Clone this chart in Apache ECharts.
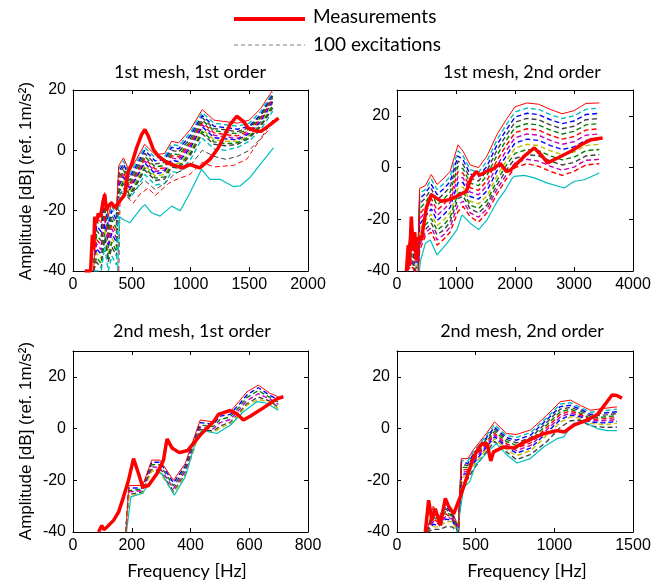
<!DOCTYPE html>
<html><head><meta charset="utf-8">
<script src="https://cdn.jsdelivr.net/npm/echarts@6/dist/echarts.min.js"></script>
<style>html,body{margin:0;padding:0;background:#fff}#c{width:665px;height:586px}</style>
</head><body><div id="c"></div>
<script>
// ---------- texts ----------
const legendLabels = ['Measurements', '100 excitations'];
const panelTitles = ['1st mesh, 1st order', '1st mesh, 2nd order', '2nd mesh, 1st order', '2nd mesh, 2nd order'];
const yAxisTitle = 'Amplitude [dB] (ref. 1m/s\u00B2)';
const xAxisTitle = 'Frequency [Hz]';

// ---------- panel 1: 1st mesh, 1st order ----------
const p1Freq   = [175,200,240,270,300,330,370,390,430,480,540,610,700,780,840,900,1000,1100,1200,1300,1400,1500,1600,1700];
const p1Upper  = [-40,-22,-24,-14,-22,-17,-20,-5,-2.5,-7,-3,2,-1.5,-1,3,2.5,7,13.5,10,9.5,9,10,14,20];
const p1ExcA2  = [-40,-23.5,-25.5,-15.5,-23.5,-18.5,-21.5,-6,-3.5,-8,-4,1,-2.5,-2,2,1.5,6,12.5,9,8.5,8,9,13,19.2];
const p1ExcA   = [-40,-25,-27,-17,-25,-20,-23,-7,-4.5,-9,-5,0,-3.5,-3,1,0.5,5,11.5,8,7.5,7,8,12,18.5];
const p1ExcB2  = [-40,-26.5,-28.5,-18.5,-26.5,-21.5,-24.5,-8,-5.5,-10,-6,-1,-4.5,-4,0,-0.5,4,10.8,7.2,6.8,6.2,7.5,11.5,18];
const p1ExcB   = [-40,-28,-30,-20,-28,-23,-26,-9,-6.5,-11,-7,-2,-5.5,-5,-1,-1.5,3,10,6.5,6,5.5,7,11,17.5];
const p1ExcC2  = [-40,-29.5,-31.5,-21.5,-29.5,-24.5,-27.5,-10,-7.2,-11.8,-7.8,-2.8,-6.2,-5.8,-1.8,-2.2,2.2,9.2,5.8,5.2,4.8,6.5,10.5,17];
const p1ExcC   = [-40,-31,-33,-23,-31,-26,-29,-11,-8,-12.5,-8.5,-3.5,-7,-6.5,-2.5,-3,1.5,8.5,5,4.5,4,6,10,16.5];
const p1ExcD2  = [-40,-32.5,-34.5,-24.5,-32.5,-27.5,-30.5,-12,-8.8,-13.2,-9.2,-4.2,-7.8,-7.2,-3.2,-3.8,0.8,7.8,4.2,3.8,3.5,5.5,9.5,16];
const p1ExcD   = [-40,-34,-36,-26,-34,-29,-32,-13,-9.5,-14,-10,-5,-8.5,-8,-4,-4.5,0,7,3.5,3,3,5,9,15.5];
const p1ExcE2  = [-40,-35.5,-37.5,-27.5,-35.5,-30.5,-33.5,-13.5,-10.2,-14.8,-10.8,-5.8,-9.2,-8.8,-4.8,-5.2,-0.8,6.2,2.8,2.2,2.5,4.5,8.5,14.8];
const p1ExcE   = [-40,-37,-39,-29,-37,-32,-35,-14,-11,-15.5,-11.5,-6.5,-10,-9.5,-5.5,-6,-1.5,5.5,2,1.5,2,4,8,14];
const p1ExcF   = [-40,-40,-40,-32,-40,-35,-38,-15.5,-12.5,-16,-13,-8,-11.5,-11,-7,-7.5,-3,4,0.5,0,1,3,7,13];
const p1GrayFreq = [400,480,610,700,780,860,1000,1100,1200,1300,1400,1500,1600,1700];
const p1GrayVals = [-14,-15,-10,-13,-11,-8,-5,0,-2,-3,-2,0,4,10];
const p1RedFreq = [390,400,450,513,570,640,700,812,860,994,1100,1200,1364,1478,1578,1678];
const p1RedVals = [-40,-17,-15,-17.5,-14.5,-12.5,-15,-11,-10,-8,-4,-5.5,-5,-3,2.8,7.4];
const p1LowFreq = [380,396,430,484,584,612,669,741,840,912,997,1094,1165,1250,1364,1421,1507,1592,1706];
const p1LowVals = [-40,-22,-23,-24,-19,-18,-20.7,-21.8,-18.5,-20,-14,-6.3,-9.6,-9.6,-12,-11.8,-9,-4.7,0.8];
const p1MeasFreq = [100,150,165,175,185,200,215,235,255,270,285,299,327,356,399,441,456,470,498,541,584,612,641,684,726,783,840,926,994,1079,1165,1236,1279,1336,1393,1450,1492,1564,1600,1678,1749];
const p1MeasVals = [-40,-40,-28,-33,-22,-24,-21,-22,-17,-14.6,-20,-18.5,-17.4,-19,-16.8,-14.6,-10.2,-6.9,-4.7,0.8,5.2,6.9,4.7,0.3,-1.9,-3.6,-4.7,-5.8,-4.7,-5.8,-3,0.8,4.1,8.5,11.3,9.6,7.4,6.3,6.3,8.5,10.7];

// ---------- panel 2: 1st mesh, 2nd order ----------
const p2Freq   = [170,200,243,300,360,384,480,581,680,800,900,1034,1120,1240,1383,1525,1700,1850,2000,2200,2400,2600,2800,3000,3200,3430];
const p2Upper  = [-40,-30,-19,-30,-28,-8,-7,-2.7,-6.5,-4,-1.5,8.8,6.3,1,0,4.5,13,18.5,23.5,25,24.5,22.5,20.8,22,24.8,25];
const p2ExcA2  = [-40,-31.5,-21,-31.5,-29.5,-10,-8.5,-4.5,-8.5,-6,-3.5,6.5,4.5,-0.8,-1.8,2.5,11,16.5,21.5,23,22.5,20.5,19,20,22.5,23];
const p2ExcA   = [-40,-33,-23,-33,-31,-12,-10,-6.5,-10.5,-8,-5.5,4.5,3,-2.5,-3.5,0.5,9,14.5,19.5,21,20.5,18.5,17,18,20.5,21];
const p2ExcB2  = [-40,-34,-24.5,-34,-32,-14,-11.8,-8.2,-12.5,-10,-7.5,2.5,1.2,-4.2,-5.2,-1.2,7,12.5,17.5,19,18.5,16.5,15,16,18.5,19];
const p2ExcB   = [-40,-35,-26,-35,-33,-16,-13.5,-10,-14.5,-12,-9.5,0.5,-0.5,-6,-7,-3,5,10.5,15.5,17,16.5,14.5,13,14,16.5,17];
const p2ExcC2  = [-40,-36,-27.5,-36,-34,-18,-15.2,-12,-16.5,-14,-11.5,-1.5,-2.2,-7.8,-8.8,-5,3,8.5,13.5,15,14.5,12.5,11,12,14.5,15];
const p2ExcC   = [-40,-37,-29,-37,-35,-20,-17,-14,-18.5,-16,-13.5,-3.5,-4,-9.5,-10.5,-7,1,6.5,11.5,13,12.5,10.5,9,10,12.5,13];
const p2ExcD2  = [-40,-38,-30.5,-38,-36,-22,-18.8,-16,-20.5,-18,-15.5,-5.8,-5.8,-11.2,-12.2,-9,-1,4.5,9.5,11,10.5,8.5,7,8,10.5,11];
const p2ExcD   = [-40,-39,-32,-39,-37,-24,-20.5,-18,-22.5,-20,-17.5,-8,-7.5,-13,-14,-11,-3,2.5,7.5,9,8.5,6.5,5,6,8.5,9];
const p2ExcE2  = [-40,-39.5,-33.5,-39.5,-38,-26,-22.2,-19.8,-24.2,-22,-19.2,-10,-9.2,-14.5,-15.8,-12.8,-4.8,0.8,5.5,7,6.5,4.5,3,4,6.5,7];
const p2ExcE   = [-40,-40,-35,-40,-39,-28,-24,-21.5,-26,-24,-21,-12,-11,-16,-17.5,-14.5,-6.5,-1,3.5,5,4.5,2.5,1,2,4.5,5];
const p2ExcF2  = [-40,-40,-36.5,-40,-39.5,-30,-25.2,-23.2,-28,-25.8,-23,-14.5,-13,-17.5,-19.2,-16,-8.2,-2.8,1.8,3.2,2.5,0.5,-1,0.2,2.8,3.2];
const p2ExcF   = [-40,-40,-38,-40,-40,-32,-26.5,-25,-30,-27.5,-25,-17,-15,-19,-21,-17.5,-10,-4.5,0,1.5,0.5,-1.5,-3,-1.5,1,1.5];
const p2LowFreq = [380,395,480,565,678,847,1017,1102,1242,1383,1525,1695,1836,1949,1988,2158,2327,2553,2836,3005,3175,3429];
const p2LowVals = [-40,-36.4,-29.3,-28,-33.8,-29.3,-24,-18.3,-21.5,-24,-20.3,-13.2,-8.7,-4.2,-3.4,-3,-4,-6,-7.9,-5.3,-4.7,-2.1];
const p2MeasFreq = [160,190,210,243,270,300,327,360,412,497,581,666,751,892,1061,1175,1259,1344,1400,1514,1627,1750,1853,1920,1988,2158,2327,2440,2553,2722,2949,3119,3288,3485];
const p2MeasVals = [-40,-30,-38,-19,-32,-25,-36,-27,-28,-15.6,-10.5,-11.8,-13,-12.4,-10.5,-9.2,-4,-1.5,-3,-1.5,-0.5,1.5,-1.5,-1,0.5,4.4,7.6,5,1.8,3.7,6.3,8.8,10.8,11.4];

// ---------- panel 3: 2nd mesh, 1st order ----------
const p3Freq  = [180,190,237,268,296,342,382,433,478,501,535,569,592,631,671,699];
const p3Upper = [-40,-22,-22,-12.2,-12.2,-20,-13.5,3.3,2.6,5.8,6.5,11,14.2,16.8,13.6,12.3];
const p3ExcA  = [-40,-23,-23,-13,-13,-21,-14.5,2.3,1.7,4.8,5.5,9.8,13,15.8,12.8,11.2];
const p3ExcB  = [-40,-24,-23.5,-14,-14,-22.2,-15.5,1.3,0.8,3.5,4.5,8.7,12,14.7,12,10.3];
const p3ExcC  = [-40,-24.5,-24,-14.8,-15.2,-23.2,-16.5,0.5,-0.1,2.3,3.5,7.7,10.8,13.5,11.4,9.3];
const p3ExcD  = [-40,-25.5,-24.5,-15.8,-16.3,-24.3,-17.6,-0.3,-1,1,2.4,6.6,9.6,12.2,10.6,8.2];
const p3ExcE  = [-40,-26,-25,-16.3,-17,-25,-18.2,-0.8,-1.5,0.2,1.8,6,9,11.3,10.2,7.6];
const p3LowFreq = [182,197,237,286,303,345,382,422,440,490,535,580,626,660,699];
const p3LowVals = [-40,-26.4,-25,-16.8,-17.5,-25.8,-18.7,-3.2,-0.6,-1.9,1.3,6.5,10.4,9.8,7.1];
const p3MeasFreq = [87,98,105,112,138,155,172,189,206,223,237,257,286,308,320,337,362,390,433,478,495,535,557,580,603,648,694,716];
const p3MeasVals = [-40,-37.5,-39,-38.5,-35.5,-32.3,-26.4,-20,-11.6,-17.4,-22.6,-22,-17.4,-12.2,-4,-7.5,-9.3,-8.5,-2.5,2.6,5.5,7,5.8,3.3,4.8,8,11.5,12.3];

// ---------- panel 4: 2nd mesh, 2nd order ----------
const p4Freq   = [190,230,270,310,350,390,409,451,483,568,620,695,760,850,953,1038,1102,1165,1229,1314,1398];
const p4Upper  = [-40,-30,-34,-28,-32,-38,-11.6,-11.6,-8.4,-1.9,2.6,-1.9,-2.3,-0.5,5.2,10.4,11,9,7.1,7.8,8.4];
const p4ExcA2  = [-40,-31,-34.5,-29,-32.5,-38.5,-12.3,-12.5,-9.2,-2.7,1.5,-2.7,-3.4,-1.5,4.3,9.5,10,8.2,6.3,6.9,7.5];
const p4ExcA   = [-40,-32,-35,-30,-33,-39,-13,-13.5,-10,-3.5,0.5,-3.5,-4.5,-2.5,3.5,8.5,9,7.5,5.5,6,6.5];
const p4ExcB2  = [-40,-33,-35.5,-31,-33.5,-39.5,-14,-14.2,-10.8,-4.2,-0.2,-4.2,-5.5,-3.5,2.5,7.5,8.2,6.8,4.8,5.2,5.8];
const p4ExcB   = [-40,-34,-36,-32,-34,-40,-15,-15,-11.5,-5,-1,-5,-6.5,-4.5,1.5,6.5,7.5,6,4,4.5,5];
const p4ExcC2  = [-40,-35,-36.5,-33,-34.5,-40,-16,-15.8,-12.2,-5.8,-1.8,-5.8,-7.5,-5.5,0.5,5.5,6.8,5.5,3.5,3.8,4.2];
const p4ExcC   = [-40,-36,-37,-34,-35,-40,-17,-16.5,-13,-6.5,-2.5,-6.5,-8.5,-6.5,-0.5,4.5,6,5,3,3,3.5];
const p4ExcD2  = [-40,-37,-37.5,-35,-35.5,-40,-18,-17.2,-13.8,-7.2,-3.2,-7.2,-9.5,-7.5,-1.5,3.5,5.2,4.5,2.5,2.2,2.8];
const p4ExcD   = [-40,-38,-38,-36,-36,-40,-19,-18,-14.5,-8,-4,-8,-10.5,-8.5,-2.5,2.5,4.5,4,2,1.5,2];
const p4ExcE   = [-40,-39,-39,-38,-38,-40,-21,-19.5,-16,-9,-5,-9,-12,-10,-5,0.5,3,3.3,1,0.5,0.5];
const p4LowFreq = [381,424,462,500,568,631,695,763,847,932,1017,1060,1123,1187,1271,1335,1398];
const p4LowVals = [-40,-22.6,-20.6,-14,-9.6,-5.8,-10,-13.3,-11.6,-7.1,-3.9,-3.2,2,2.7,0,-0.8,-0.8];
const p4MeasFreq = [180,201,222,243,275,307,328,360,402,445,487,536,572,596,614,678,746,800,873,932,1017,1064,1123,1208,1275,1335,1367,1398,1430];
const p4MeasVals = [-40,-27.7,-35.5,-31,-37.4,-27,-30,-33,-26.4,-18.7,-11,-6,-5.8,-12.5,-9,-7.1,-7.5,-5.5,-3.5,-2,-0.8,-1.3,1.3,3.3,5.5,10.4,13,12.8,11.7];

// ---------- axes ----------
const xMaxes = [2000, 4000, 800, 1500];
const xIntervals = [500, 1000, 200, 500];
const yMaxes = [20, 30, 30, 30];

// ---------- build ----------
const C = {b:'#0000ff', g:'#008000', r:'#ff0000', c:'#00bfbf', m:'#bf00bf', y:'#bfbf00', k:'#404040'};
const zip = (f, v) => f.map((x, i) => [x, v[i]]);
const grids = [
  {left:73, top:90, width:235, height:181},
  {left:397, top:90, width:236, height:181},
  {left:73, top:351, width:235, height:181},
  {left:397, top:351, width:236, height:181}
];
const plain = v => String(v);
const xAxes = [], yAxes = [];
grids.forEach((g, p) => {
  const common = {gridIndex:p, type:'value', splitLine:{show:false},
    axisLine:{onZero:false, lineStyle:{color:'#000', width:1}},
    axisTick:{inside:true, length:4, lineStyle:{color:'#000'}}};
  xAxes.push(Object.assign({}, common, {position:'bottom', min:0, max:xMaxes[p], interval:xIntervals[p],
    axisLabel:{fontFamily:'Liberation Sans', fontSize:16, color:'#000', margin:6, formatter:plain}}));
  xAxes.push(Object.assign({}, common, {position:'top', min:0, max:xMaxes[p], interval:xIntervals[p], axisLabel:{show:false}}));
  yAxes.push(Object.assign({}, common, {position:'left', min:-40, max:yMaxes[p], interval:20,
    axisLabel:{fontFamily:'Liberation Sans', fontSize:16, color:'#000', margin:7, formatter:plain,
      showMaxLabel: yMaxes[p] % 20 === 0, showMinLabel:true}}));
  yAxes.push(Object.assign({}, common, {position:'right', min:-40, max:yMaxes[p], interval:20, axisLabel:{show:false}}));
});
const series = [];
function add(p, f, v, color, width, dashed) {
  series.push({type:'line', xAxisIndex:2*p, yAxisIndex:2*p, data:zip(f, v), symbol:'none', silent:true,
    animation:false, lineStyle:{color:color, width:width, type: dashed ? [5,3] : 'solid'}});
}
const DW = 1.4;
// panel 1
[[p1ExcA2,C.c],[p1ExcA,C.b],[p1ExcB2,C.k],[p1ExcB,C.g],[p1ExcC2,C.r],[p1ExcC,C.m],[p1ExcD2,C.b],
 [p1ExcD,C.y],[p1ExcE2,C.g],[p1ExcE,C.k],[p1ExcF,C.c]].forEach(([v,c]) => add(0, p1Freq, v, c, DW, true));
add(0, p1GrayFreq, p1GrayVals, C.k, 1, true);
add(0, p1RedFreq, p1RedVals, C.r, 1, true);
add(0, p1LowFreq, p1LowVals, C.c, 1.2, false);
add(0, p1Freq, p1Upper, C.r, 1, false);
add(0, p1MeasFreq, p1MeasVals, C.r, 3.5, false);
// panel 2
[[p2ExcA2,C.c],[p2ExcA,C.b],[p2ExcB2,C.k],[p2ExcB,C.g],[p2ExcC2,C.r],[p2ExcC,C.m],[p2ExcD2,C.b],
 [p2ExcD,C.y],[p2ExcE2,C.g],[p2ExcE,C.k],[p2ExcF2,C.m],[p2ExcF,C.r]].forEach(([v,c]) => add(1, p2Freq, v, c, DW, true));
add(1, p2LowFreq, p2LowVals, C.c, 1.2, false);
add(1, p2Freq, p2Upper, C.r, 1, false);
add(1, p2MeasFreq, p2MeasVals, C.r, 3.5, false);
// panel 3
[[p3ExcA,C.b],[p3ExcB,C.g],[p3ExcC,C.m],[p3ExcD,C.k],[p3ExcE,C.y]].forEach(([v,c]) => add(2, p3Freq, v, c, DW, true));
add(2, p3LowFreq, p3LowVals, C.c, 1.2, false);
add(2, p3Freq, p3Upper, C.r, 1, false);
add(2, p3MeasFreq, p3MeasVals, C.r, 3.5, false);
// panel 4
[[p4ExcA2,C.c],[p4ExcA,C.b],[p4ExcB2,C.k],[p4ExcB,C.g],[p4ExcC2,C.r],[p4ExcC,C.m],[p4ExcD2,C.b],
 [p4ExcD,C.y],[p4ExcE,C.k]].forEach(([v,c]) => add(3, p4Freq, v, c, DW, true));
add(3, p4LowFreq, p4LowVals, C.c, 1.2, false);
add(3, p4Freq, p4Upper, C.r, 1, false);
add(3, p4MeasFreq, p4MeasVals, C.r, 3.5, false);

const txt = (x, y, text, font, extra) => Object.assign({type:'text', x:x, y:y,
  style:{text:text, font:font, fill:'#000', textAlign:'center', textVerticalAlign:'middle', verticalAlign:'middle'}}, extra || {});
const graphic = [
  {type:'line', shape:{x1:234, y1:19, x2:305, y2:19}, style:{stroke:'#ff0000', lineWidth:4}},
  {type:'line', shape:{x1:234, y1:45, x2:305, y2:45}, style:{stroke:'#808080', lineWidth:1, lineDash:[4,3]}},
  {type:'text', x:313, y:17, style:{text:legendLabels[0], font:'19px Lato', fill:'#000', textAlign:'left', textVerticalAlign:'middle', verticalAlign:'middle'}},
  {type:'text', x:313, y:45, style:{text:legendLabels[1], font:'19px Lato', fill:'#000', textAlign:'left', textVerticalAlign:'middle', verticalAlign:'middle'}},
  txt(190, 72, panelTitles[0], '18px Lato'),
  txt(522, 72, panelTitles[1], '18px Lato'),
  txt(192, 331, panelTitles[2], '18px Lato'),
  txt(522, 331, panelTitles[3], '18px Lato'),
  txt(26, 181, yAxisTitle, '17px "Liberation Sans"', {rotation: Math.PI/2}),
  txt(26, 441, yAxisTitle, '17px "Liberation Sans"', {rotation: Math.PI/2}),
  txt(187, 571, xAxisTitle, '18px Lato'),
  txt(527, 571, xAxisTitle, '18px Lato')
];

const chart = echarts.init(document.getElementById('c'), null, {renderer:'canvas'});
chart.setOption({animation:false, backgroundColor:'#fff', grid:grids, xAxis:xAxes, yAxis:yAxes, series:series, graphic:graphic});
</script></body></html>
